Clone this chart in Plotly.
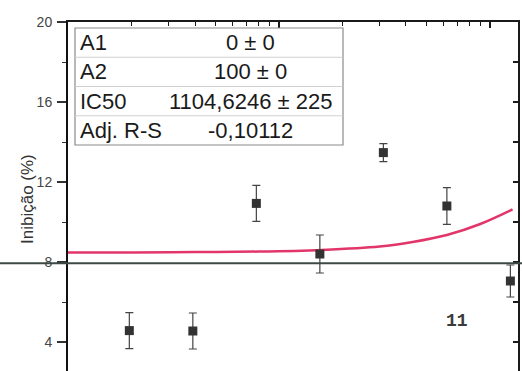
import plotly.graph_objects as go

# ---- data ----
conc = [1.953, 3.906, 7.8125, 15.625, 31.25, 62.5, 125]
inhibition = [4.57, 4.55, 10.93, 8.40, 13.47, 10.80, 7.05]
inhibition_err = [0.90, 0.90, 0.90, 0.95, 0.45, 0.92, 0.80]

fit_x = [1, 2, 4, 8, 16, 30, 43, 62.5, 90, 128]
fit_y = [8.47, 8.48, 8.50, 8.52, 8.60, 8.77, 9.00, 9.35, 9.90, 10.63]

table_labels = ["A1", "A2", "IC50", "Adj. R-S"]
table_values = ["0 ± 0", "100 ± 0", "1104,6246 ± 225", "-0,10112"]

y_ticks = [4, 8, 12, 16, 20]
y_minor = [6, 10, 14, 18]
y_right_ticks = [4, 6, 8, 10, 12, 14, 16, 18, 20]
x_major = [1, 10, 100]
x_minor = [2, 3, 4, 5, 6, 7, 8, 9, 20, 30, 40, 50, 60, 70, 80, 90]

page_number = "11"
scan_line_y = 7.94

# ---- geometry ----
W, H = 522, 371
L, R, T, B = 68, 4, 22, 0
YR = [2.55, 20]
XR = [0, 2.133]
pw, ph = W - L - R, H - T - B

def px(x):
    return (x - L) / pw

def py(y):
    return (H - B - y) / ph

fig = go.Figure()

fig.add_trace(go.Scatter(
    x=fit_x, y=fit_y, mode="lines", line=dict(color="#e2356a", width=2.5, shape="spline"),
    hoverinfo="skip", showlegend=False))

fig.add_trace(go.Scatter(
    x=conc, y=inhibition, mode="markers",
    marker=dict(symbol="square", size=9, color="#333333"),
    error_y=dict(type="data", array=inhibition_err, visible=True, color="#444444",
                 thickness=1.2, width=4),
    showlegend=False))

# invisible trace to anchor the mirror axes
fig.add_trace(go.Scatter(x=[10], y=[10], xaxis="x2", yaxis="y2", mode="markers",
                         marker=dict(opacity=0), showlegend=False, hoverinfo="skip"))

fig.update_layout(
    width=W, height=H, margin=dict(l=L, r=R, t=T, b=B),
    paper_bgcolor="white", plot_bgcolor="white",
    font=dict(family="Liberation Sans, Arial, sans-serif", color="#222"),
    xaxis=dict(type="log", range=XR, showline=False, ticks="", showticklabels=False,
               showgrid=False, zeroline=False),
    xaxis2=dict(type="log", range=XR, overlaying="x", side="top", anchor="y",
                showline=True, linewidth=2, linecolor="#1a1a1a",
                ticks="inside", tickvals=x_major, ticklen=6, tickwidth=1.5, tickcolor="#1a1a1a",
                minor=dict(ticks="inside", tickvals=x_minor, ticklen=4, tickwidth=1.2,
                           tickcolor="#1a1a1a"),
                showticklabels=False, showgrid=False, zeroline=False),
    yaxis=dict(range=YR, showline=True, linewidth=2, linecolor="#111",
               ticks="outside", tickvals=y_ticks, ticklen=9, tickwidth=1.5, tickcolor="#333",
               minor=dict(ticks="outside", tickvals=y_minor, ticklen=4, tickwidth=1.2,
                          tickcolor="#333"),
               ticklabelstandoff=2,
               tickfont=dict(size=14, color="#444"), showgrid=False, zeroline=False),
    yaxis2=dict(range=YR, overlaying="y", side="right", anchor="x",
                showline=True, linewidth=2, linecolor="#1a1a1a",
                ticks="inside", tickvals=y_right_ticks, ticklen=5, tickwidth=1.5,
                tickcolor="#1a1a1a", showticklabels=False, showgrid=False, zeroline=False),
)

# axis title
fig.add_annotation(text="Inibição (%)", xref="paper", yref="paper", x=px(27), y=py(199),
                   xanchor="center", yanchor="middle",
                   textangle=-90, showarrow=False, font=dict(size=17, color="#333"))

# scan line across the page
fig.add_shape(type="line", xref="paper", yref="y", x0=px(0), x1=px(W), y0=scan_line_y,
              y1=scan_line_y, line=dict(color="#3d4a44", width=2))

# parameter table
bx0, bx1, by0, by1 = 75, 343, 28, 145
fig.add_shape(type="rect", xref="paper", yref="paper", x0=px(bx0), x1=px(bx1),
              y0=py(by1), y1=py(by0), line=dict(color="#8a8a8a", width=1.2),
              fillcolor="white", layer="above")
row_h = (by1 - by0) / len(table_labels)
for i, (lab, val) in enumerate(zip(table_labels, table_values)):
    cy = by0 + row_h * (i + 0.5)
    if i > 0:
        sy = by0 + row_h * i
        fig.add_shape(type="line", xref="paper", yref="paper", x0=px(bx0), x1=px(bx1),
                      y0=py(sy), y1=py(sy), line=dict(color="#d0d0d0", width=1))
    fig.add_annotation(text=lab, xref="paper", yref="paper", x=px(78), y=py(cy),
                       xanchor="left", yanchor="middle", showarrow=False,
                       font=dict(size=22, color="#1a1a1a"))
    fig.add_annotation(text=val, xref="paper", yref="paper", x=px(250), y=py(cy),
                       xanchor="center", yanchor="middle", showarrow=False,
                       font=dict(size=22, color="#1a1a1a"))

# page number
fig.add_annotation(text="<b>" + page_number + "</b>", xref="paper", yref="paper",
                   x=px(457), y=py(321), xanchor="center", yanchor="middle",
                   showarrow=False, font=dict(family="Liberation Mono, monospace", size=18,
                                              color="#3a3a3a"))

fig.write_html("out.html")
